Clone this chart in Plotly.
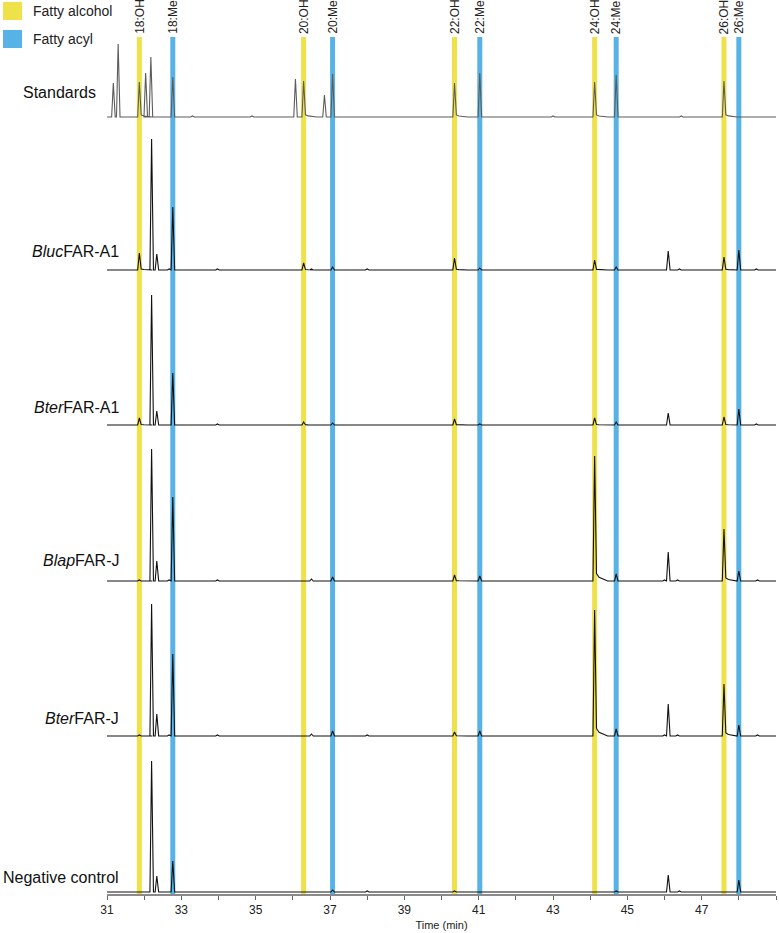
import plotly.graph_objects as go

# ---------------- data ----------------
samples = ["Standards", "<i>Bluc</i>FAR-A1", "<i>Bter</i>FAR-A1",
           "<i>Blap</i>FAR-J", "<i>Bter</i>FAR-J", "Negative control"]

# retention times (min) and peak heights (arbitrary units) of each trace
standards_rt = [31.17, 31.30, 31.87, 32.04, 32.18, 32.77, 33.3, 34.9, 36.07, 36.29,
                36.85, 37.07, 40.35, 41.03, 43.0, 44.12, 44.70, 46.45, 47.60]
standards_h = [34, 73, 35, 44, 60, 40, 1, 1, 38, 36,
               22, 43, 34, 44, 1, 35, 42, 1, 36]

bluc_a1_rt = [31.87, 32.20, 32.34, 32.67, 32.77, 33.97, 34.44, 36.29, 36.50, 37.07,
              38.0, 40.35, 41.03, 44.12, 44.70, 46.10, 46.40, 47.60, 48.00, 48.47]
bluc_a1_h = [17, 131, 16, 1, 63, 1, 0.5, 7, 1, 3,
             1, 12, 2, 10, 3, 19, 1, 13, 20, 1]

bter_a1_rt = [31.87, 32.20, 32.34, 32.77, 33.97, 36.29, 37.07, 40.35, 41.03, 44.12,
              44.70, 46.10, 47.60, 48.00, 48.47]
bter_a1_h = [7, 130, 14, 52, 1, 3, 2, 6, 1, 7,
             3, 12, 8, 16, 1]

blap_j_rt = [31.87, 32.20, 32.34, 32.67, 32.77, 33.97, 36.50, 37.07, 40.35, 41.03,
             44.12, 44.70, 46.00, 46.10, 46.35, 47.60, 48.00, 48.50]
blap_j_h = [1, 132, 20, 1, 84, 1, 2, 4, 6, 5,
            125, 7, 1, 29, 1, 52, 10, 1]

bter_j_rt = [31.87, 32.20, 32.34, 32.67, 32.77, 33.97, 36.50, 37.07, 38.0, 40.35,
             41.03, 44.12, 44.70, 46.00, 46.10, 46.35, 47.60, 48.00, 48.50]
bter_j_h = [1, 132, 22, 1, 82, 1, 2, 5, 1, 4,
            5, 126, 7, 1, 32, 1, 52, 11, 1]

neg_rt = [32.20, 32.34, 32.77, 37.07, 38.0, 40.35, 44.70, 46.10, 46.40, 48.00]
neg_h = [131, 16, 31, 2, 1, 1, 1, 17, 1, 12]

alcohol_labels = ["18:OH", "20:OH", "22:OH", "24:OH", "26:OH"]
alcohol_rt = [31.87, 36.29, 40.35, 44.12, 47.60]
acyl_labels = ["18:Me", "20:Me", "22:Me", "24:Me", "26:Me"]
acyl_rt = [32.77, 37.07, 41.03, 44.70, 48.00]

x_start, x_end = 31.0, 49.0
tick_vals = list(range(31, 50))
tick_text = [str(v) if v % 2 == 1 else "" for v in tick_vals]

# ---------------- layout / style ----------------
W, H = 779, 933
ML, MR, MT, MB = 107, 3, 37, 39
PW, PH = W - ML - MR, H - MT - MB
offsets = [777, 624, 469, 313, 158, 2]           # baseline of each trace (y units)
trace_colors = ["#5c5c5c"] + ["#111111"] * 5
YELLOW = "#EFE14A"
BLUE = "#57B3E6"
FONT = "Liberation Sans, Arial, sans-serif"


def chromatogram(rts, hs):
    """vertices of a baseline with narrow peaks at the given retention times"""
    xs, ys = [x_start], [0.0]
    for rt, h in sorted(zip(rts, hs)):
        tail = any(abs(rt - a) < 0.06 for a in alcohol_rt)
        xs += [rt - 0.045, rt]
        ys += [0.0, h]
        if tail:
            xs += [rt + 0.05, rt + 0.12, rt + 0.35]
            ys += [0.06 * h, 0.03 * h, 0.0]
        else:
            xs += [rt + 0.05]
            ys += [0.0]
    xs.append(x_end)
    ys.append(0.0)
    return xs, ys


series = [(standards_rt, standards_h), (bluc_a1_rt, bluc_a1_h), (bter_a1_rt, bter_a1_h),
          (blap_j_rt, blap_j_h), (bter_j_rt, bter_j_h), (neg_rt, neg_h)]

fig = go.Figure()
for (rts, hs), name, off, col in zip(series, samples, offsets, trace_colors):
    xs, ys = chromatogram(rts, hs)
    fig.add_trace(go.Scatter(x=xs, y=[v + off for v in ys], mode="lines",
                             line=dict(color=col, width=1.1), name=name,
                             hoverinfo="skip", showlegend=False))

shapes = []
annotations = []
for labels, rts, col in [(alcohol_labels, alcohol_rt, YELLOW), (acyl_labels, acyl_rt, BLUE)]:
    for lab, rt in zip(labels, rts):
        shapes.append(dict(type="line", xref="x", yref="paper", x0=rt, x1=rt, y0=0, y1=1,
                           line=dict(color=col, width=5), layer="below"))
        annotations.append(dict(x=rt, y=1, xref="x", yref="paper", text=lab,
                                textangle=-90, showarrow=False, xanchor="center",
                                yanchor="bottom", yshift=1,
                                font=dict(family=FONT, size=12, color="#222")))


def px(xp):
    return (xp - ML) / PW


def py(yp):
    return (H - MB - yp) / PH


# legend squares
for (y0, y1), col, txt in [((2, 20), YELLOW, "Fatty alcohol"), ((30, 48), BLUE, "Fatty acyl")]:
    shapes.append(dict(type="rect", xref="paper", yref="paper", x0=px(3), x1=px(22),
                       y0=py(y1), y1=py(y0), fillcolor=col, line=dict(width=0)))
    annotations.append(dict(x=px(31), y=py((y0 + y1) / 2), xref="paper", yref="paper",
                            text=txt, showarrow=False, xanchor="left", yanchor="middle",
                            font=dict(family=FONT, size=14, color="#222")))

# sample labels
label_pos = [(98, 93), (121, 252), (121, 407), (121, 560), (121, 718), (121, 877)]
for name, (xr, yc) in zip(samples, label_pos):
    annotations.append(dict(x=px(xr), y=py(yc), xref="paper", yref="paper", text=name,
                            showarrow=False, xanchor="right", yanchor="middle",
                            font=dict(family=FONT, size=16, color="#111")))

fig.update_layout(
    width=W, height=H,
    margin=dict(l=ML, r=MR, t=MT, b=MB),
    paper_bgcolor="white", plot_bgcolor="white",
    shapes=shapes, annotations=annotations,
    xaxis=dict(range=[x_start, x_end], tickvals=tick_vals, ticktext=tick_text,
               showgrid=False, zeroline=False, showline=True, linecolor="#8a8a8a",
               linewidth=2, ticks="outside", ticklen=4, tickcolor="#666", tickwidth=1,
               tickfont=dict(family=FONT, size=12, color="#222"),
               title=dict(text="Time (min)", standoff=5,
                          font=dict(family=FONT, size=11, color="#222"))),
    yaxis=dict(range=[0, PH], visible=False, fixedrange=True),
)

fig.write_html("out.html", config={"displayModeBar": False, "staticPlot": True},
               post_script="document.body.style.margin='0px';document.body.style.overflow='hidden';")
